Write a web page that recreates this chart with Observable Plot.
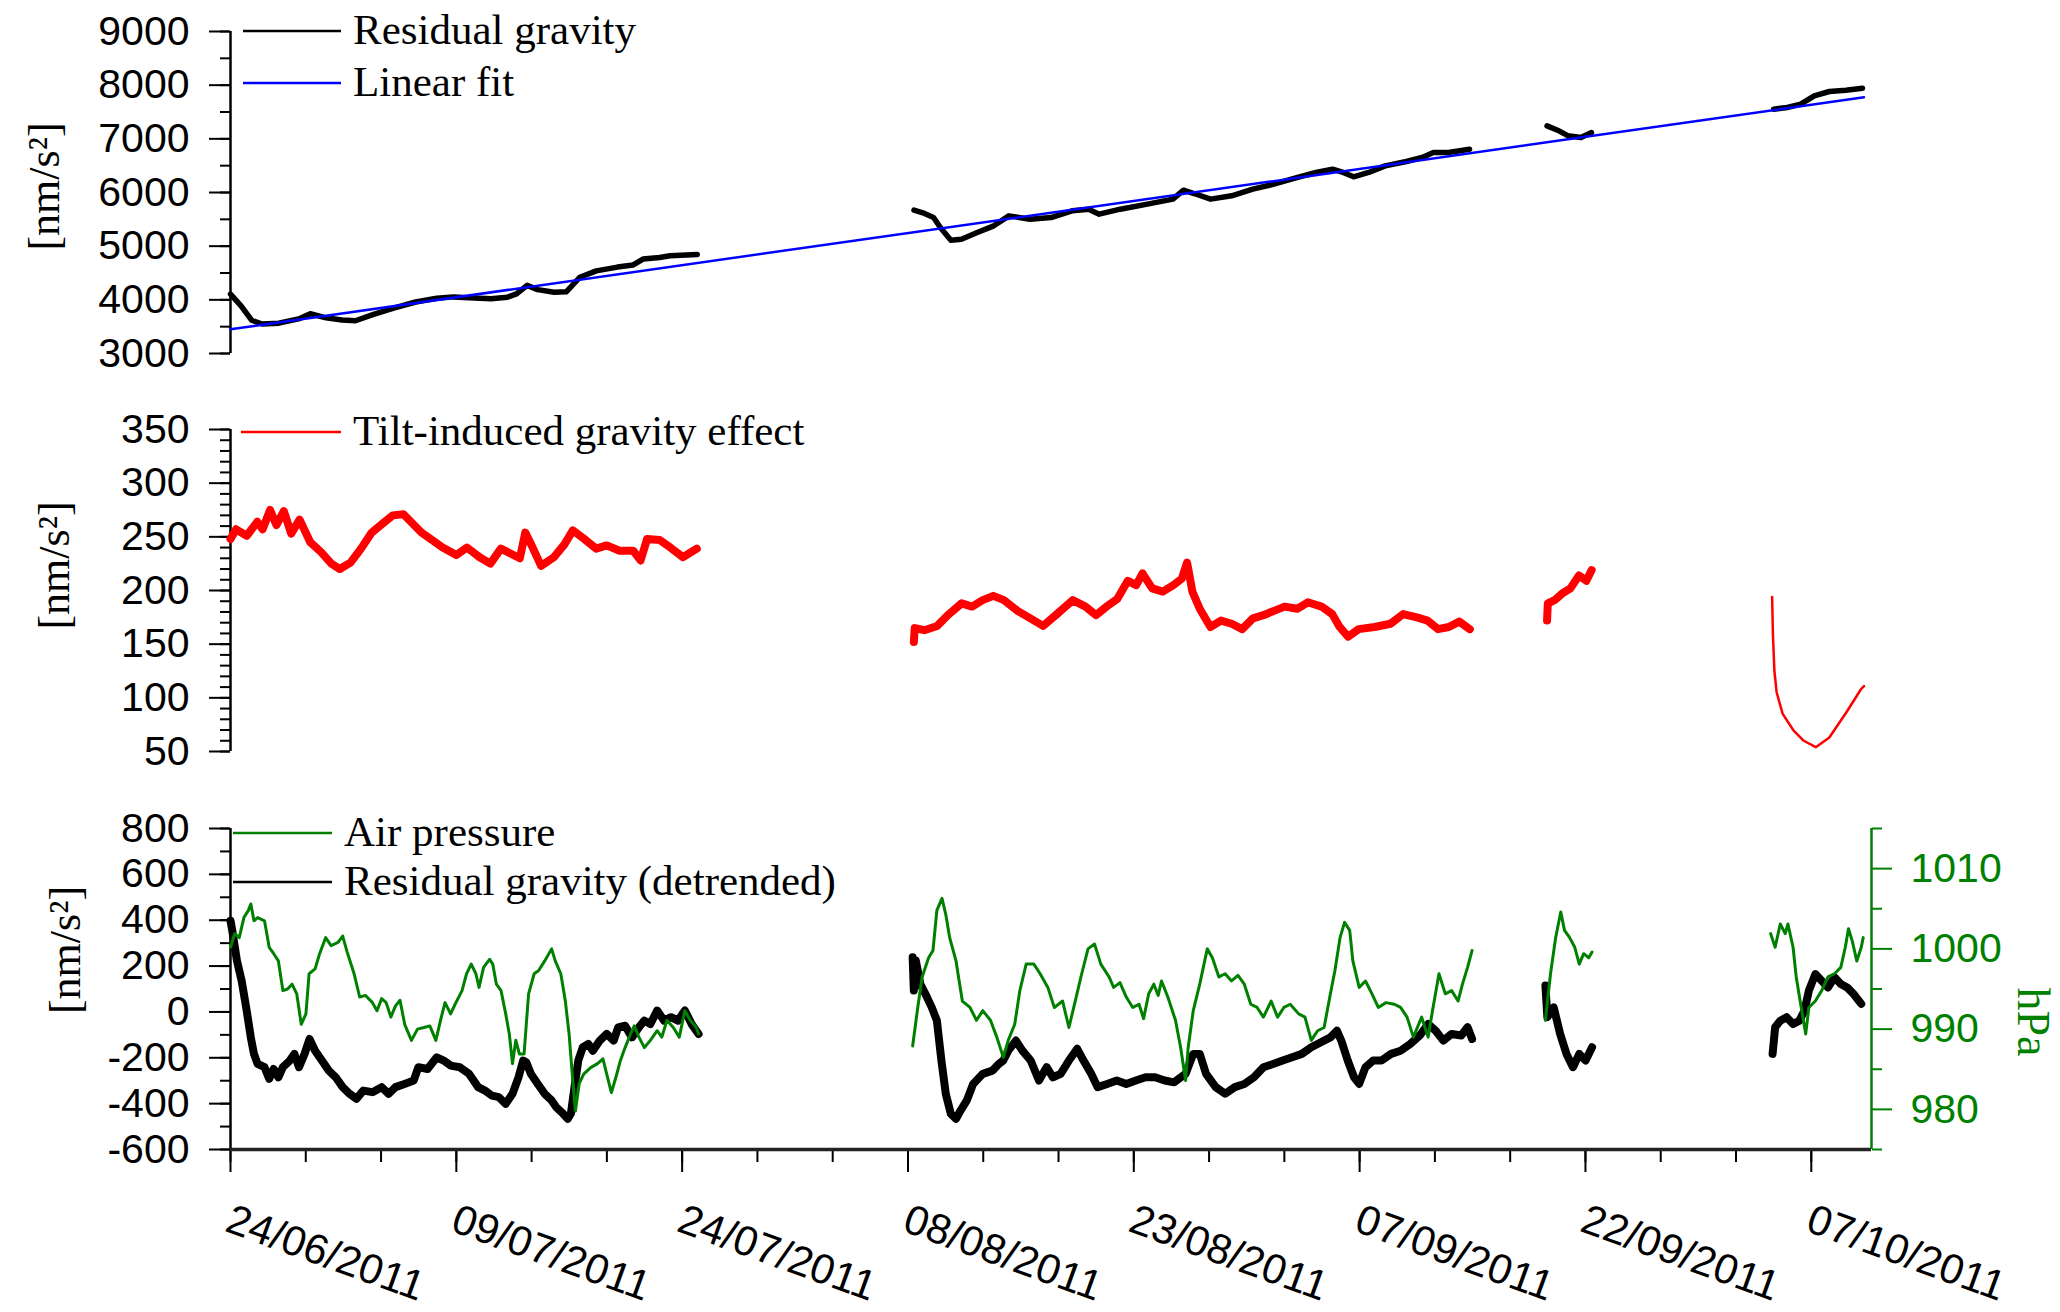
<!DOCTYPE html>
<html>
<head>
<meta charset="utf-8">
<script src="https://cdn.jsdelivr.net/npm/d3@7"></script>
<script src="https://cdn.jsdelivr.net/npm/@observablehq/plot@0.6"></script>
<style>
  body { margin: 0; background: #fff; }
  #chart { position: relative; width: 2060px; height: 1312px; background: #fff; overflow: hidden; }
  #chart svg { position: absolute; left: 0; overflow: visible; }
</style>
</head>
<body>
<div id="chart"></div>
<script>
// ---------- axis / tick data ----------
const xTickLabels = ["24/06/2011","09/07/2011","24/07/2011","08/08/2011","23/08/2011","07/09/2011","22/09/2011","07/10/2011"];
const xDomainLabels = ["24/06/2011","11/10/2011"];
const topTicks = [3000,4000,5000,6000,7000,8000,9000];
const midTicks = [50,100,150,200,250,300,350];
const botTicks = [-600,-400,-200,0,200,400,600,800];
const presTicks = [980,990,1000,1010];
const presMinorTicks = [975,985,995,1005,1015];
const presDomain = [975, 1015];

// ---------- series (day offset from 24/06/2011, value) ----------
const gravitySeg1 = [[0,4106],[0.7,3888],[1.4,3620],[2.1,3550],[3.2,3565],[4.6,3650],[5.3,3740],[6.35,3665],[7.4,3625],[8.3,3610],[9.5,3730],[10.9,3850],[12.3,3960],[13.7,4030],[14.8,4055],[16.2,4035],[17.3,4020],[18.4,4050],[19.0,4110],[19.7,4270],[20.4,4190],[21.5,4140],[22.3,4150],[23.2,4420],[24.3,4540],[25.7,4610],[26.75,4650],[27.4,4760],[28.5,4790],[29.2,4820],[31.0,4845]];
const gravitySeg2 = [[45.4,5671],[46.1,5609],[46.7,5534],[47.15,5348],[47.85,5112],[48.55,5130],[49.6,5255],[50.7,5379],[51.7,5565],[53.1,5503],[54.5,5534],[55.9,5658],[57.0,5689],[57.7,5596],[59.1,5689],[60.9,5783],[62.6,5876],[63.3,6043],[64.0,5981],[65.1,5876],[66.5,5938],[67.9,6062],[69.3,6155],[70.7,6267],[72.1,6373],[73.2,6435],[73.9,6373],[74.6,6292],[75.6,6373],[76.7,6497],[78.1,6578],[79.15,6652],[79.9,6745],[80.9,6745],[82.3,6807]];
const gravitySeg3 = [[87.45,7242],[88.15,7161],[88.85,7056],[89.7,7025],[90.4,7118]];
const gravitySeg4 = [[102.5,7553],[103.4,7584],[104.3,7646],[105.2,7801],[106.2,7882],[107.3,7907],[108.4,7944]];
const fitLine = [[0,3450],[108.5,7775]];

const tiltSeg1 = [[0,248],[0.37,257],[1.08,251],[1.78,264],[2.13,257],[2.63,275],[3.05,261],[3.54,274],[4.03,253],[4.59,266],[5.3,245],[6.0,236],[6.7,225],[7.26,220],[7.97,226],[8.67,239],[9.38,254],[10.08,262],[10.78,270],[11.49,271],[11.98,264],[12.68,254],[13.39,247],[14.09,240],[15.0,233],[15.71,240],[16.55,231],[17.26,225],[17.96,239],[18.66,234],[19.22,230],[19.58,254],[20.07,240],[20.63,223],[21.48,231],[22.18,243],[22.74,256],[23.59,247],[24.29,239],[24.99,242],[25.84,237],[26.75,237],[27.24,228],[27.67,248],[28.51,247],[29.22,240],[30.06,231],[30.97,239]];
const tiltSeg2 = [[45.39,152],[45.45,165],[46.09,163],[46.94,167],[47.64,177],[48.56,188],[49.26,185],[49.96,191],[50.67,195],[51.37,191],[52.28,181],[53.13,174],[53.97,167],[54.89,178],[55.94,191],[56.79,185],[57.49,177],[58.19,185],[58.9,192],[59.6,209],[60.16,205],[60.58,216],[61.22,202],[61.92,199],[62.63,205],[63.19,211],[63.54,226],[63.89,199],[64.38,183],[65.09,166],[65.79,172],[66.5,169],[67.2,164],[67.91,174],[68.61,177],[69.31,181],[70.02,185],[70.86,183],[71.56,189],[72.47,185],[73.18,178],[73.67,166],[74.23,157],[74.94,164],[75.99,166],[77.05,169],[77.89,178],[78.8,175],[79.51,172],[80.21,164],[80.92,166],[81.62,171],[82.32,164]];
const tiltSeg3 = [[87.45,172],[87.5,188],[87.95,191],[88.44,197],[89.0,202],[89.57,214],[90.06,209],[90.41,219]];
const tiltSeg4 = [[102.4,194],[102.45,160],[102.55,125],[102.7,105],[103.1,85],[103.8,70],[104.5,60],[105.3,54],[106.2,63],[107.4,88],[108.3,108],[108.5,111]];

const detrSeg1 = [[0,398],[0.12,354],[0.43,223],[0.74,136],[1.04,20],[1.35,-111],[1.56,-183],[1.8,-227],[2.26,-241],[2.57,-292],[2.87,-249],[3.18,-285],[3.48,-241],[3.94,-212],[4.24,-183],[4.55,-241],[4.92,-183],[5.25,-118],[5.62,-169],[6.07,-212],[6.53,-256],[6.99,-285],[7.45,-328],[7.91,-357],[8.36,-379],[8.82,-343],[9.43,-350],[10.04,-328],[10.5,-357],[10.96,-328],[11.56,-314],[12.17,-299],[12.48,-241],[13.09,-249],[13.7,-198],[14.16,-212],[14.62,-234],[15.23,-241],[15.84,-270],[16.45,-328],[16.9,-343],[17.36,-365],[17.82,-372],[18.28,-401],[18.73,-357],[19.13,-285],[19.44,-212],[19.65,-220],[19.95,-270],[20.41,-314],[20.87,-357],[21.33,-386],[21.63,-415],[22.09,-444],[22.4,-466],[22.61,-444],[22.85,-328],[23.1,-212],[23.4,-154],[23.77,-140],[24.07,-169],[24.53,-125],[24.99,-96],[25.45,-125],[25.75,-67],[26.21,-60],[26.67,-111],[27.13,-67],[27.49,-38],[27.89,-53],[28.34,6],[28.8,-38],[29.26,-23],[29.72,-38],[30.18,6],[30.63,-53],[31.09,-96]];
const detrSeg2 = [[45.31,238],[45.39,93],[45.52,224],[45.82,122],[46.16,78],[46.58,20],[46.92,-38],[47.22,-212],[47.51,-357],[47.85,-445],[48.19,-466],[48.49,-430],[48.91,-386],[49.33,-314],[49.97,-270],[50.61,-256],[51.03,-227],[51.33,-212],[51.66,-169],[52.17,-125],[52.6,-169],[53.15,-212],[53.7,-299],[54.21,-241],[54.63,-285],[55.14,-270],[55.69,-212],[56.24,-161],[56.66,-212],[57.17,-270],[57.6,-328],[58.23,-314],[58.87,-299],[59.5,-314],[60.14,-299],[60.78,-285],[61.41,-285],[62.05,-299],[62.68,-307],[63.44,-270],[63.95,-183],[64.38,-183],[64.8,-270],[65.44,-328],[66.07,-357],[66.71,-328],[67.34,-314],[67.98,-285],[68.61,-241],[69.25,-227],[69.89,-212],[70.52,-198],[71.16,-183],[71.79,-154],[72.43,-132],[73.06,-111],[73.49,-82],[73.78,-125],[74.21,-212],[74.63,-285],[74.97,-314],[75.39,-241],[75.9,-212],[76.45,-212],[77.09,-183],[77.72,-169],[78.36,-140],[78.99,-103],[79.55,-53],[80.05,-82],[80.56,-125],[81.11,-96],[81.75,-103],[82.17,-67],[82.47,-118]];
const detrSeg3 = [[87.34,115],[87.47,-23],[87.89,20],[88.32,-96],[88.74,-183],[89.17,-241],[89.59,-183],[90.01,-212],[90.44,-154]];
const detrSeg4 = [[102.43,-183],[102.6,-67],[102.94,-38],[103.36,-23],[103.79,-53],[104.21,-38],[104.55,6],[104.84,93],[105.27,165],[105.69,136],[106.11,107],[106.54,151],[106.96,122],[107.38,107],[107.81,78],[108.32,35]];

const presSeg1 = [[0,1000.2],[0.28,1001.9],[0.58,1001.4],[0.89,1003.9],[1.19,1004.8],[1.35,1005.6],[1.56,1003.5],[1.8,1003.9],[2.26,1003.5],[2.57,1000.2],[2.87,999.4],[3.18,998.5],[3.48,994.8],[3.79,995.0],[4.09,995.6],[4.4,994.4],[4.7,990.6],[5.01,991.9],[5.22,996.9],[5.62,997.5],[5.92,999.4],[6.32,1001.4],[6.68,1000.4],[7.14,1000.8],[7.45,1001.6],[7.75,999.6],[8.21,996.9],[8.58,994.0],[8.97,994.2],[9.43,993.3],[9.73,992.3],[10.04,993.8],[10.34,993.3],[10.65,991.5],[10.96,992.9],[11.26,993.6],[11.57,990.6],[12.02,988.6],[12.42,990.0],[12.85,990.2],[13.24,990.4],[13.64,988.6],[13.95,991.1],[14.25,993.3],[14.62,991.9],[14.92,993.1],[15.38,994.8],[15.68,996.9],[15.99,998.1],[16.3,996.9],[16.51,995.2],[16.81,997.7],[17.21,998.7],[17.42,998.1],[17.66,995.6],[17.97,994.8],[18.28,991.9],[18.52,989.4],[18.73,985.7],[18.95,988.6],[19.19,986.9],[19.5,986.9],[19.8,994.4],[20.17,996.9],[20.47,997.3],[20.87,998.5],[21.33,1000.0],[21.57,998.5],[21.94,996.9],[22.24,993.5],[22.49,989.4],[22.7,984.4],[22.91,979.8],[23.16,983.2],[23.46,984.4],[23.92,985.2],[24.38,985.7],[24.74,986.3],[24.99,984.4],[25.3,982.1],[25.6,984.0],[25.9,986.1],[26.21,987.7],[26.57,989.4],[26.82,990.4],[27.13,989.0],[27.49,987.7],[27.89,988.6],[28.34,989.8],[28.65,989.0],[28.99,991.1],[29.41,990.2],[29.81,989.0],[30.18,992.3],[30.54,991.1],[30.94,990.2],[31.09,989.4]];
const presSeg2 = [[45.31,987.9],[45.65,992.7],[45.94,996.5],[46.37,998.9],[46.66,999.8],[46.92,1004.8],[47.26,1006.3],[47.51,1004.3],[47.77,1001.4],[48.19,998.5],[48.61,993.5],[49.12,992.7],[49.55,991.1],[49.97,992.3],[50.48,991.1],[50.9,989.0],[51.33,986.5],[51.66,988.6],[52.09,990.6],[52.43,994.8],[52.85,998.1],[53.36,998.1],[53.78,996.9],[54.29,995.2],[54.72,992.7],[55.27,993.5],[55.69,990.2],[56.11,993.5],[56.54,996.9],[56.96,1000.0],[57.39,1000.6],[57.81,998.1],[58.36,996.5],[58.66,995.2],[59.08,995.8],[59.5,994.0],[59.93,992.7],[60.35,993.1],[60.65,991.3],[60.99,994.4],[61.33,995.6],[61.62,994.2],[61.84,996.0],[62.26,994.0],[62.77,991.1],[63.11,987.7],[63.44,983.6],[63.61,987.7],[63.95,992.3],[64.38,995.6],[64.88,1000.0],[65.22,998.9],[65.65,996.5],[66.07,996.9],[66.49,996.0],[66.92,996.7],[67.34,995.6],[67.77,993.1],[68.19,992.7],[68.61,991.5],[69.12,993.5],[69.55,991.5],[69.97,992.7],[70.39,993.1],[70.95,991.9],[71.37,991.5],[71.79,988.6],[72.21,989.8],[72.64,990.2],[73.06,994.4],[73.36,997.3],[73.7,1001.4],[74.0,1003.3],[74.34,1002.3],[74.55,998.5],[74.97,995.2],[75.39,996.0],[75.82,994.4],[76.24,992.7],[76.75,993.3],[77.3,993.1],[77.72,992.7],[78.15,991.5],[78.57,989.0],[79.12,991.5],[79.55,989.0],[79.84,992.3],[80.27,996.9],[80.69,994.4],[81.11,994.8],[81.54,993.5],[81.83,995.6],[82.17,997.7],[82.47,999.8]];
const presSeg3 = [[87.34,991.1],[87.68,996.9],[88.02,1001.4],[88.36,1004.6],[88.61,1002.3],[88.95,1001.4],[89.29,1000.2],[89.59,998.1],[89.88,999.4],[90.22,998.9],[90.44,999.6]];
const presSeg4 = [[102.3,1001.9],[102.6,1000.2],[102.94,1003.1],[103.27,1001.9],[103.45,1003.1],[103.79,1000.2],[104.0,996.5],[104.33,992.7],[104.63,989.4],[104.84,992.7],[105.27,993.5],[105.69,994.8],[106.11,996.5],[106.54,996.9],[106.96,997.7],[107.26,1000.2],[107.47,1002.5],[107.72,1001.0],[108.02,998.5],[108.32,1000.2],[108.45,1001.4]];

// ---------- build tables ----------
const parse = d3.utcParse("%d/%m/%Y");
const t0 = parse(xDomainLabels[0]).getTime();
const day = d => new Date(t0 + d * 864e5);
const rows = segs => segs.flatMap((s, i) => s.map(([d, v]) => ({date: day(d), v, seg: i})));

const gravity = rows([gravitySeg1, gravitySeg2, gravitySeg3, gravitySeg4]);
const fit = rows([fitLine]);
const tiltThick = rows([tiltSeg1, tiltSeg2, tiltSeg3]);
const tiltThin = rows([tiltSeg4]);
const detr = rows([detrSeg1, detrSeg2, detrSeg3, detrSeg4]);
const pres = rows([presSeg1, presSeg2, presSeg3, presSeg4]);

// pressure -> left axis units (right axis spans the same frame)
const toL = d3.scaleLinear().domain(presDomain).range([botTicks[0], botTicks[botTicks.length - 1]]);

const xDates = xTickLabels.map(parse);
const xEnd = parse(xDomainLabels[1]);
const xMinor = d3.range(0, (xEnd - t0) / 864e5, 5).map(day);
const xScale = {type: "utc", domain: [day(0), xEnd], axis: null, label: null};
const styleBase = {fontFamily: "'Liberation Sans', Arial, sans-serif", fontSize: "41px", background: "transparent", overflow: "visible", color: "black"};
const serif = "'Liberation Serif', 'Times New Roman', serif";
const fmt = d => String(d);
const minorOf = (ticks, step) => d3.range(ticks[0], ticks[ticks.length - 1] + step / 2, step);

const unitLabel = (dx, dy) => Plot.text(["[nm/s²]"], {text: d => d, frameAnchor: "left", dx, dy, rotate: -90, textAnchor: "middle", lineAnchor: "middle", fontFamily: serif, fontSize: 44, fill: "black"});

function yAxes(ticks, step) {
  return [
    Plot.axisY({ticks: minorOf(ticks, step), tickSize: 10, fill: "none", strokeWidth: 2, label: null}),
    Plot.axisY({ticks, tickSize: 21, tickPadding: 20, tickFormat: fmt, strokeWidth: 2, label: null})
  ];
}

function legend(svg, items) {
  const g = d3.select(svg).append("g").attr("text-anchor", "start");
  for (const it of items) {
    g.append("line").attr("x1", it.x1).attr("x2", it.x2).attr("y1", it.y).attr("y2", it.y)
      .attr("stroke", it.color).attr("stroke-width", 2.5);
    g.append("text").attr("x", it.tx).attr("y", it.y + 13).attr("font-family", serif)
      .attr("text-anchor", "start").attr("font-size", 43).attr("fill", "black").text(it.label);
  }
}

const chart = document.getElementById("chart");
function place(svg, top) { svg.style.top = top + "px"; chart.appendChild(svg); }

// ---------- top panel ----------
const topPlot = Plot.plot({
  width: 2060, height: 380, marginTop: 31, marginBottom: 27, marginLeft: 230, marginRight: 189,
  x: xScale, y: {domain: [topTicks[0], topTicks[topTicks.length - 1]], axis: null, label: null},
  style: styleBase,
  marks: [
    ...yAxes(topTicks, 500),
    Plot.ruleX([day(0)], {stroke: "black", strokeWidth: 2.5}),
    Plot.line(gravity, {x: "date", y: "v", z: "seg", stroke: "black", strokeWidth: 5.5, strokeLinejoin: "round"}),
    Plot.line(fit, {x: "date", y: "v", stroke: "#0000ff", strokeWidth: 2.5}),
    unitLabel(-186, -6)
  ]
});
place(topPlot, 0);
legend(topPlot, [
  {x1: 243, x2: 341, y: 31, tx: 353, color: "black", label: "Residual gravity"},
  {x1: 243, x2: 341, y: 83, tx: 353, color: "#0000ff", label: "Linear fit"}
]);

// ---------- middle panel ----------
const midPlot = Plot.plot({
  width: 2060, height: 400, marginTop: 49, marginBottom: 29, marginLeft: 230, marginRight: 189,
  x: xScale, y: {domain: [midTicks[0], midTicks[midTicks.length - 1]], axis: null, label: null},
  style: styleBase,
  marks: [
    ...yAxes(midTicks, 10),
    Plot.ruleX([day(0)], {stroke: "black", strokeWidth: 2.5}),
    Plot.line(tiltThick, {x: "date", y: "v", z: "seg", stroke: "#ff0000", strokeWidth: 8, strokeLinejoin: "round"}),
    Plot.line(tiltThin, {x: "date", y: "v", stroke: "#ff0000", strokeWidth: 2.5}),
    unitLabel(-176, -25)
  ]
});
place(midPlot, 380);
legend(midPlot, [
  {x1: 241, x2: 341, y: 52, tx: 353, color: "#ff0000", label: "Tilt-induced gravity effect"}
]);

// ---------- bottom panel ----------
const botPlot = Plot.plot({
  width: 2060, height: 532, marginTop: 48, marginBottom: 163, marginLeft: 230, marginRight: 189,
  x: xScale, y: {domain: [botTicks[0], botTicks[botTicks.length - 1]], axis: null, label: null},
  style: styleBase,
  marks: [
    ...yAxes(botTicks, 100),
    Plot.axisY({anchor: "right", ticks: presMinorTicks.map(toL), tickSize: 10, stroke: "green", fill: "none", strokeWidth: 2, label: null}),
    Plot.axisY({anchor: "right", ticks: presTicks.map(toL), tickSize: 20, tickPadding: 19, stroke: "green", fill: "green",
      tickFormat: v => String(Math.round(toL.invert(v))), strokeWidth: 2, label: null}),
    Plot.axisX({ticks: xMinor, tickSize: 13, fill: "none", strokeWidth: 2, label: null}),
    Plot.axisX({ticks: xDates, tickSize: 23, fill: "none", strokeWidth: 2, label: null}),
    Plot.ruleX([day(0)], {stroke: "black", strokeWidth: 2.5}),
    Plot.ruleY([botTicks[0]], {stroke: "#222", strokeWidth: 3.5}),
    Plot.ruleX([xEnd], {stroke: "green", strokeWidth: 2.5}),
    Plot.line(detr, {x: "date", y: "v", z: "seg", stroke: "black", strokeWidth: 8, strokeLinejoin: "round"}),
    Plot.line(pres, {x: "date", y: d => toL(d.v), z: "seg", stroke: "green", strokeWidth: 3, strokeLinejoin: "round"}),
    Plot.text(xDates, {x: d => d, text: (d, i) => xTickLabels[i], frameAnchor: "bottom", dx: -7, dy: 81, rotate: 20,
      textAnchor: "start", lineAnchor: "bottom", fontSize: 42, fill: "black"}),
    unitLabel(-165, -39),
    Plot.text(["hPa"], {text: d => d, frameAnchor: "right", dx: 161, dy: 33, rotate: 90, textAnchor: "middle", lineAnchor: "middle",
      fontFamily: serif, fontSize: 46, fill: "green"})
  ]
});
place(botPlot, 780);
legend(botPlot, [
  {x1: 233, x2: 332, y: 53, tx: 344, color: "green", label: "Air pressure"},
  {x1: 233, x2: 332, y: 102, tx: 344, color: "black", label: "Residual gravity (detrended)"}
]);
</script>
</body>
</html>
